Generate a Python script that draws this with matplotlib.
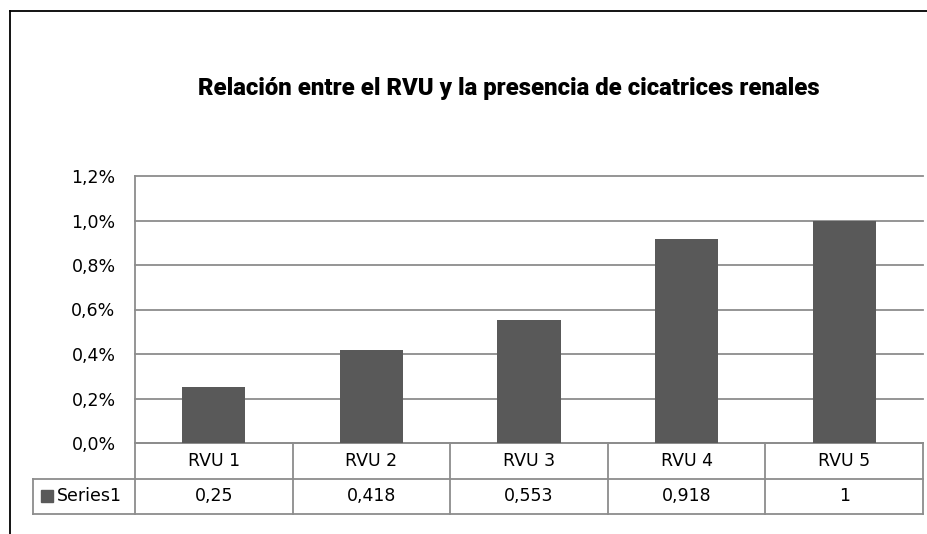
import matplotlib
matplotlib.use("Agg")
import matplotlib.pyplot as plt
from matplotlib.lines import Line2D
from matplotlib.patches import Rectangle

# Data
categories = ["RVU 1", "RVU 2", "RVU 3", "RVU 4", "RVU 5"]
values = [0.25, 0.418, 0.553, 0.918, 1]
value_labels = ["0,25", "0,418", "0,553", "0,918", "1"]
series_name = "Series1"
yticks = [0.0, 0.2, 0.4, 0.6, 0.8, 1.0, 1.2]
title = "Relación entre el RVU y la presencia de cicatrices renales"

W, H = 928, 534
fig = plt.figure(figsize=(W / 100, H / 100), dpi=100)

# Outer chart border (top and left visible)
fig.add_artist(Line2D([10 / W, 10 / W], [0, 1 - 11 / H], color="black", lw=1.3))
fig.add_artist(Line2D([10 / W, 1], [1 - 11 / H, 1 - 11 / H], color="black", lw=1.3))

# Plot area
x0, x1, ytop, ybot = 135, 923, 176, 443
ax = fig.add_axes([x0 / W, 1 - ybot / H, (x1 - x0) / W, (ybot - ytop) / H])

grid_col = "#8c8c8c"
bar_col = "#595959"
table_font = ["DejaVu Sans"]

xs = range(len(categories))
ax.bar(xs, values, width=0.4, color=bar_col, zorder=3)
ax.set_xlim(-0.5, len(categories) - 0.5)
ax.set_ylim(0, 1.2)
ax.set_yticks(yticks)
ax.set_yticklabels([f"{v:.1f}%".replace(".", ",") for v in yticks], fontsize=12.5)
ax.tick_params(axis="y", length=0, pad=14)
ax.set_xticks([])
ax.grid(axis="y", color=grid_col, lw=1.3, zorder=0)
for gl in ax.get_ygridlines():
    gl.set_clip_on(False)
for s in ["top", "right", "bottom"]:
    ax.spines[s].set_visible(False)
ax.spines["left"].set_color(grid_col)
ax.spines["left"].set_linewidth(1.3)

# Data table below the plot
row_h = 35.5 / (ybot - ytop)  # one row height in axes units
leg_left = (33 - x0) / (x1 - x0)
ncol = len(categories)
kw = dict(transform=ax.transAxes, clip_on=False, color=grid_col, lw=1.3)

ax.add_line(Line2D([0, 1], [0, 0], **kw))
ax.add_line(Line2D([leg_left, 1], [-row_h, -row_h], **kw))
ax.add_line(Line2D([leg_left, 1], [-2 * row_h, -2 * row_h], **kw))
for i in range(ncol + 1):
    ax.add_line(Line2D([i / ncol, i / ncol], [0, -2 * row_h], **kw))
ax.add_line(Line2D([leg_left, leg_left], [-row_h, -2 * row_h], **kw))

tkw = dict(transform=ax.transAxes, ha="center", va="center", fontsize=12.5,
           family=table_font)
for i, (cat, lab) in enumerate(zip(categories, value_labels)):
    xc = (i + 0.5) / ncol
    ax.text(xc, -0.5 * row_h, cat, **tkw)
    ax.text(xc, -1.5 * row_h, lab, **tkw)

# legend key + series name
px = 1 / (x1 - x0)
py = 1 / (ybot - ytop)
ax.add_patch(Rectangle((41 * px - x0 * px, -1.5 * row_h - 6 * py), 12 * px, 12 * py,
                       transform=ax.transAxes, clip_on=False, color=bar_col))
ax.text((57 - x0) * px, -1.5 * row_h, series_name,
        transform=ax.transAxes, ha="left", va="center", fontsize=12.5,
        family=table_font)

# Title, sized to span the same width as the reference
t = fig.text(509 / W, 1 - 88 / H, title, ha="center", va="center", fontsize=16,
             fontweight="heavy", family=["Roboto", "DejaVu Sans"])
r = fig.canvas.get_renderer()
w = t.get_window_extent(r).width
t.set_fontsize(16 * 622 / w)

fig.savefig("out.png", dpi=100)
